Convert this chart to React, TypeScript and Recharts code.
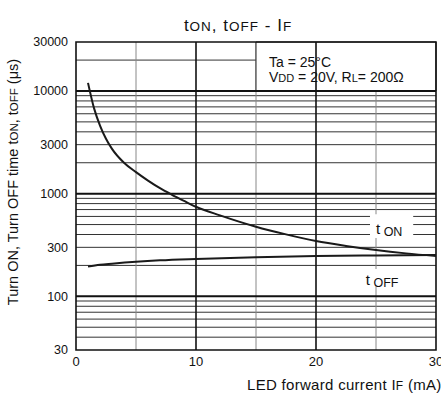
import { LineChart, Line, XAxis, YAxis, CartesianGrid, ReferenceLine, ReferenceArea } from "recharts";

const onCurrent = [1, 1.5, 2, 2.5, 3, 4, 5, 6, 7, 8, 9, 10, 12, 15, 17.5, 20, 22.5, 25, 27.5, 30];
const onTime = [12000, 6810, 4610, 3430, 2730, 2000, 1620, 1340, 1130, 975, 850, 745, 614, 476, 401, 345, 309, 282, 262, 247];

const offCurrent = [1, 2, 3, 5, 7, 10, 15, 20, 25, 30];
const offTime = [195, 203, 208, 217, 224, 231, 240, 247, 250, 252];

const xTicks = [0, 10, 20, 30];
const xMinorGrid = [5, 15, 25];
const xMajorGrid = [10, 20];
const yTicks = [30, 100, 300, 1000, 3000, 10000, 30000];
const yMinorGrid = [40, 50, 60, 70, 80, 90, 200, 300, 400, 500, 600, 700, 800, 900, 2000, 3000, 4000, 5000, 6000, 7000, 8000, 9000, 20000];
const yMajorGrid = [100, 1000, 10000];

const onData = onCurrent.map((x, i) => ({ x, y: onTime[i] }));
const offData = offCurrent.map((x, i) => ({ x, y: offTime[i] }));

const font = '"Liberation Sans", Arial, sans-serif';

export default function App() {
  return (
    <div style={{ position: "absolute", left: 0, top: 0, width: 441, height: 394, background: "#fff", fontFamily: font }}>
      <LineChart width={441} height={394} margin={{ top: 42, right: 5, bottom: 0, left: 0 }}>
        <CartesianGrid vertical={false} horizontalValues={yMinorGrid} stroke="#333" strokeWidth={1} />
        <CartesianGrid horizontal={false} verticalValues={xMinorGrid} stroke="#888" strokeWidth={1} />
        <XAxis
          type="number"
          dataKey="x"
          domain={[0, 30]}
          ticks={xTicks}
          interval={0}
          allowDataOverflow
          height={44}
          tickSize={0}
          tickMargin={7}
          axisLine={false}
          tick={{ fill: "#111", fontSize: 13, fontFamily: font }}
        />
        <YAxis
          type="number"
          dataKey="y"
          scale="log"
          domain={[30, 30000]}
          ticks={yTicks}
          interval={0}
          allowDataOverflow
          width={76}
          tickSize={0}
          tickMargin={8}
          axisLine={false}
          tick={{ fill: "#111", fontSize: 12.5, fontFamily: font }}
        />
        {yMajorGrid.map((v) => (
          <ReferenceLine key={"y" + v} y={v} stroke="#111" strokeWidth={2} />
        ))}
        {xMajorGrid.map((v) => (
          <ReferenceLine key={"x" + v} x={v} stroke="#111" strokeWidth={1.6} />
        ))}
        <ReferenceArea
          x1={15}
          x2={30}
          y1={10000}
          y2={30000}
          fill="#fff"
          fillOpacity={1}
          stroke="#222"
          strokeWidth={1}
          label={(p: any) => {
            const vb = p.viewBox || {};
            return (
              <g fill="#111" fontFamily={font} fontSize={14}>
                <text x={vb.x + 13} y={vb.y + 25}>Ta = 25°C</text>
                <text x={vb.x + 13} y={vb.y + 40}>
                  V<tspan fontSize={11}>DD</tspan> = 20V, R<tspan fontSize={11}>L</tspan>= 200Ω
                </text>
              </g>
            );
          }}
        />
        <ReferenceArea
          x1={24.5}
          x2={28.1}
          y1={370}
          y2={630}
          fill="#fff"
          fillOpacity={1}
          stroke="none"
          label={(p: any) => {
            const vb = p.viewBox || {};
            return (
              <text x={vb.x + 6} y={vb.y + 20} fill="#111" fontFamily={font} fontSize={15}>
                t<tspan fontSize={12.5} dy={2}> ON</tspan>
              </text>
            );
          }}
        />
        <ReferenceArea
          x1={23.9}
          x2={27.6}
          y1={125}
          y2={185}
          fill="#fff"
          fillOpacity={1}
          stroke="none"
          label={(p: any) => {
            const vb = p.viewBox || {};
            return (
              <text x={vb.x + 3} y={vb.y + 16} fill="#111" fontFamily={font} fontSize={15}>
                t<tspan fontSize={12.5} dy={2}> OFF</tspan>
              </text>
            );
          }}
        />
        <ReferenceArea x1={0} x2={30} y1={30} y2={30000} fill="none" stroke="#111" strokeWidth={1.6} />
        <Line data={onData} dataKey="y" type="monotone" stroke="#1a1a1a" strokeWidth={2} dot={false} isAnimationActive={false} />
        <Line data={offData} dataKey="y" type="monotone" stroke="#1a1a1a" strokeWidth={2} dot={false} isAnimationActive={false} />
      </LineChart>
      <svg width={441} height={394} style={{ position: "absolute", left: 0, top: 0, pointerEvents: "none" }}>
        <text x={238} y={31} textAnchor="middle" fill="#111" fontFamily={font} fontSize={17} letterSpacing={1}>
          t<tspan fontSize={13.5}>ON</tspan>, t<tspan fontSize={13.5}>OFF</tspan> - I<tspan fontSize={13.5}>F</tspan>
        </text>
        <text
          transform="translate(18,182) rotate(-90)"
          textAnchor="middle"
          fill="#111"
          fontFamily={font}
          fontSize={14.5}
        >
          Turn ON, Turn OFF time t<tspan fontSize={11.5}>ON</tspan>, t<tspan fontSize={11.5}>OFF</tspan> (μs)
        </text>
        <text x={247} y={390} fill="#111" fontFamily={font} fontSize={15} letterSpacing={0.3}>
          LED forward current I<tspan fontSize={12}>F</tspan> (mA)
        </text>
      </svg>
    </div>
  );
}
